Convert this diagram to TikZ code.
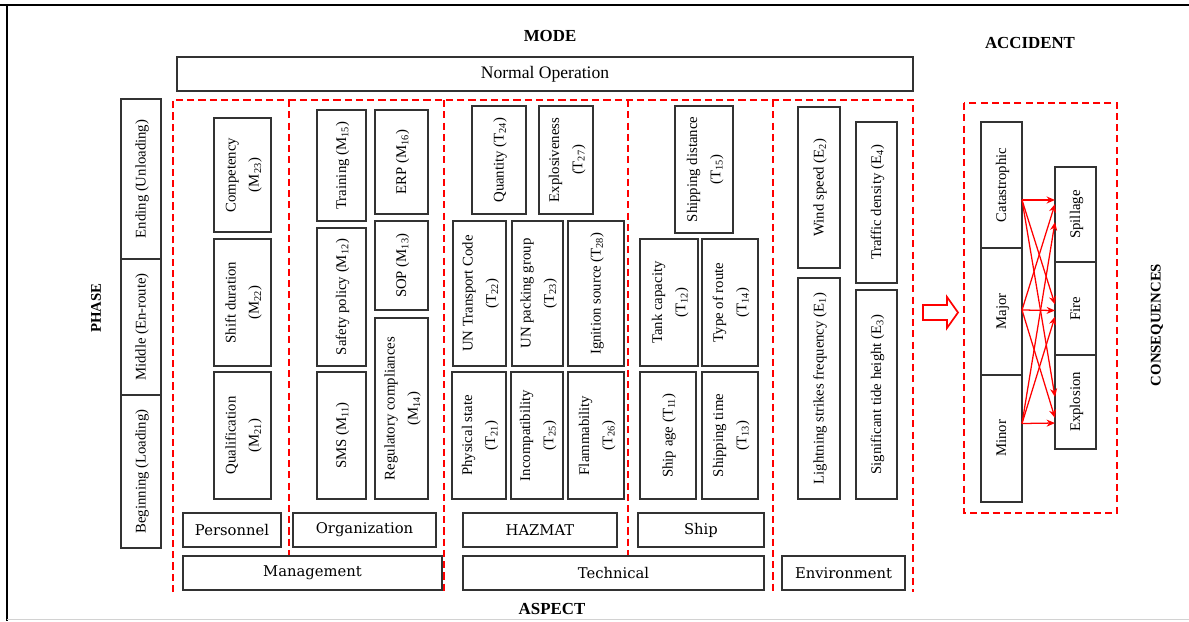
\documentclass[tikz,border=0pt]{standalone}
\usepackage{fontspec}
\setmainfont{Liberation Serif}
\newfontfamily\aspfont{DejaVu Serif}
\usepackage{graphicx}
\usetikzlibrary{arrows.meta,calc}
\definecolor{accred}{RGB}{255,0,0}
\definecolor{boxgray}{RGB}{50,50,50}
\newcommand{\ix}[1]{\textsubscript{#1}}
\newcommand{\vlab}[1]{\rotatebox{90}{\begin{tabular}{@{}c@{}}#1\end{tabular}}}

\begin{document}
\begin{tikzpicture}[x=0.025cm, y=-0.025cm,
    box/.style={draw=boxgray, line width=1pt, inner sep=0pt, outer sep=0pt,
      font=\fontsize{10.5}{16.5}\selectfont},
    sz/.style 2 args={minimum width=#1*0.025cm, minimum height=#2*0.025cm},
    aspbox/.style={box, font=\aspfont\fontsize{10.5}{12}\selectfont},
    title/.style={font=\bfseries\fontsize{12}{14}\selectfont},
    region/.style={draw=accred, line width=1.4pt, dash pattern=on 5pt off 3pt},
    link/.style={accred, line width=0.9pt, -{Stealth[length=6pt,width=5pt]}}]
    \useasboundingbox (0,0) rectangle (1189,621);

    % Frame
    \draw[line width=2.1pt] (0,5) -- (1189,5);
    \draw[line width=1.5pt] (7,4) -- (7,621);
    \draw[gray!35, line width=1pt] (7,619.5) -- (1189,619.5);

    % Titles
    \node[title] (mode) at (550,36) {MODE};
    \node[title] (accident) at (1030,43) {ACCIDENT};
    \node[title] (aspect) at (552,609) {ASPECT};
    \node[title, font=\bfseries\fontsize{10.5}{12}\selectfont, rotate=90] (phase) at (96,308) {PHASE};
    \node[title, font=\bfseries\fontsize{10.5}{12}\selectfont, rotate=90] (conseq) at (1157,325) {CONSEQUENCES};

    % Mode
    \node[box, sz={736}{34}, font=\fontsize{12.5}{14}\selectfont] (normal) at (545,74) {Normal Operation};

    % Phase
    \node[box, sz={40}{160}] (ending) at (141,179) {\vlab{Ending (Unloading)}};
    \node[box, sz={40}{136}] (middle) at (141,327) {\vlab{Middle (En-route)}};
    \node[box, sz={40}{153}] (beginning) at (141,471.5) {\vlab{Beginning (Loading)}};

    % Aspect regions
    \draw[region] (173,592) -- (173,100) -- (913,100) -- (913,592);
    \draw[region] (444,100) -- (444,592);
    \draw[region] (773,100) -- (773,592);
    \draw[region] (289,100) -- (289,556);
    \draw[region] (628,100) -- (628,556);

    % Management: personnel
    \node[box, sz={57}{114}] (m23) at (242.5,175) {\vlab{Competency\\(M\ix{23})}};
    \node[box, sz={57}{127}] (m22) at (242.5,302.5) {\vlab{Shift duration\\(M\ix{22})}};
    \node[box, sz={57}{127}] (m21) at (242.5,435.5) {\vlab{Qualification\\(M\ix{21})}};

    % Management: organization
    \node[box, sz={49}{111}] (m15) at (341.5,165.5) {\vlab{Training (M\ix{15})}};
    \node[box, sz={49}{138}] (m12) at (341.5,297) {\vlab{Safety policy (M\ix{12})}};
    \node[box, sz={49}{127}] (m11) at (341.5,435.5) {\vlab{SMS (M\ix{11})}};
    \node[box, sz={53}{104}] (m16) at (401.5,162) {\vlab{ERP (M\ix{16})}};
    \node[box, sz={53}{89}] (m13) at (401.5,265.5) {\vlab{SOP (M\ix{13})}};
    \node[box, sz={53}{181}] (m14) at (401.5,408.5) {\vlab{Regulatory compliances\\(M\ix{14})}};

    \node[aspbox, sz={98}{34}] (personnel) at (232,530) {Personnel};
    \node[aspbox, sz={143}{34}] (organization) at (364.5,530) {Organization};
    \node[aspbox, sz={259}{34}] (management) at (312.5,573) {Management};

    % Technical: HAZMAT
    \node[box, sz={54}{108}] (t24) at (499,160) {\vlab{Quantity (T\ix{24})}};
    \node[box, sz={54}{108}] (t27) at (566,160) {\vlab{Explosiveness\\(T\ix{27})}};
    \node[box, sz={53}{145}] (t22) at (479.5,293.5) {\vlab{UN Transport Code\\(T\ix{22})}};
    \node[box, sz={51}{145}] (t23) at (537.5,293.5) {\vlab{UN packing group\\(T\ix{23})}};
    \node[box, sz={56}{145}] (t28) at (596,293.5) {\vlab{Ignition source (T\ix{28})}};
    \node[box, sz={54}{127}] (t21) at (479,435.5) {\vlab{Physical state\\(T\ix{21})}};
    \node[box, sz={52}{127}] (t25) at (537,435.5) {\vlab{Incompatibility\\(T\ix{25})}};
    \node[box, sz={56}{127}] (t26) at (596,435.5) {\vlab{Flammability\\(T\ix{26})}};

    % Technical: ship
    \node[box, sz={58}{127}] (t15) at (704,169.5) {\vlab{Shipping distance\\(T\ix{15})}};
    \node[box, sz={58}{127}] (t12) at (669,302.5) {\vlab{Tank capacity\\(T\ix{12})}};
    \node[box, sz={56}{127}] (t14) at (730,302.5) {\vlab{Type of route\\(T\ix{14})}};
    \node[box, sz={56}{127}] (t11) at (668,435.5) {\vlab{Ship age (T\ix{11})}};
    \node[box, sz={56}{127}] (t13) at (730,435.5) {\vlab{Shipping time\\(T\ix{13})}};

    \node[aspbox, sz={154}{34}] (hazmat) at (540,530) {HAZMAT};
    \node[aspbox, sz={126}{34}] (ship) at (701,530) {Ship};
    \node[aspbox, sz={301}{34}] (technical) at (613.5,573) {Technical};

    % Environment
    \node[box, sz={42}{161}] (e2) at (819,187.5) {\vlab{Wind speed (E\ix{2})}};
    \node[box, sz={41}{161}] (e4) at (876.5,202.5) {\vlab{Traffic density (E\ix{4})}};
    \node[box, sz={42}{221}] (e1) at (819,388.5) {\vlab{Lightning strikes frequency (E\ix{1})}};
    \node[box, sz={41}{209}] (e3) at (876.5,394.5) {\vlab{Significant tide height (E\ix{3})}};
    \node[aspbox, sz={123}{34}] (environment) at (843.5,573) {Environment};

    % Hollow arrow
    \draw[accred, line width=1.2pt] (923,305) -- (947,305) -- (947,297) -- (958,312.5)
        -- (947,328) -- (947,320) -- (923,320) -- cycle;

    % Accident and consequences
    \draw[region] (964,103) rectangle (1117,513);
    \node[box, sz={41}{126}] (cat) at (1001.5,185) {\vlab{Catastrophic}};
    \node[box, sz={41}{127}] (major) at (1001.5,311.5) {\vlab{Major}};
    \node[box, sz={41}{127}] (minor) at (1001.5,438.5) {\vlab{Minor}};
    \node[box, sz={41}{95}] (spill) at (1075.5,214.5) {\vlab{Spillage}};
    \node[box, sz={41}{93}] (fire) at (1075.5,308.5) {\vlab{Fire}};
    \node[box, sz={41}{94}] (expl) at (1075.5,402) {\vlab{Explosion}};

    \foreach \src/\sy/\dst/\dy in {cat/15/spill/-14.5, cat/15/fire/-4, cat/15/expl/-5,
        major/-1.5/spill/-10.5, major/-1.5/fire/2, major/-1.5/expl/16,
        minor/-15/spill/7.5, minor/-15/fire/8, minor/-15/expl/21}
      \draw[link] ($(\src.east)+(0,\sy)$) -- ($(\dst.west)+(0,\dy)$);
\end{tikzpicture}
\end{document}
